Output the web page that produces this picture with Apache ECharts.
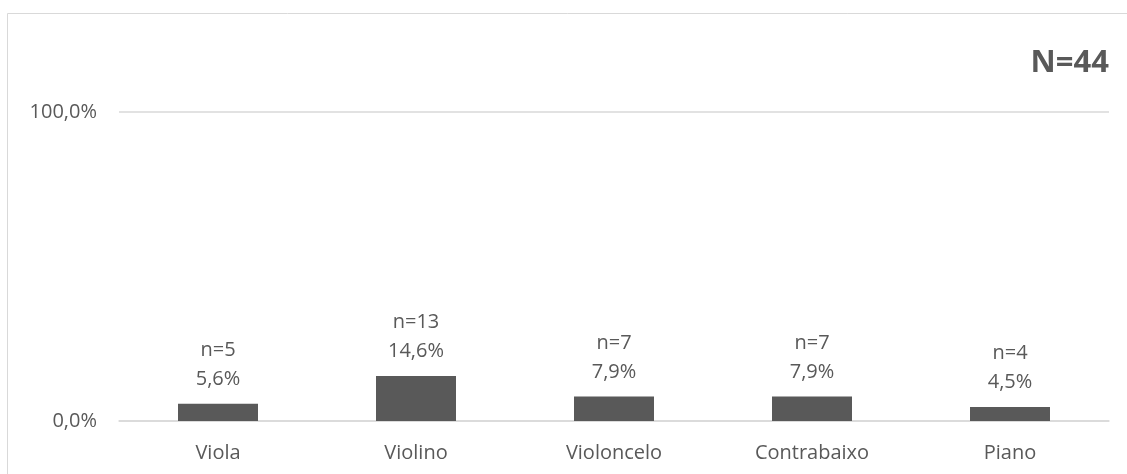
<!DOCTYPE html>
<html>
<head>
<meta charset="utf-8">
<script src="https://cdn.jsdelivr.net/npm/echarts@6/dist/echarts.min.js"></script>
<style>
  html, body { margin: 0; padding: 0; background: #ffffff; }
  #chart { width: 1127px; height: 474px; }
</style>
</head>
<body>
<div id="chart"></div>
<script>
// Instruments and their respondent counts / shares
const categories = ['Viola', 'Violino', 'Violoncelo', 'Contrabaixo', 'Piano'];
const counts = [5, 13, 7, 7, 4];
const percents = [5.6, 14.6, 7.9, 7.9, 4.5];
const yTicks = [0, 100];
const totalLabel = 'N=44';

const fmtPct = v => v.toFixed(1).replace('.', ',') + '%';
const textColor = '#595959';
const fontFamily = '"Open Sans", "Noto Sans", sans-serif';

const chart = echarts.init(document.getElementById('chart'), null, { renderer: 'canvas' });

chart.setOption({
  animation: false,
  backgroundColor: '#ffffff',
  graphic: [
    {
      type: 'rect',
      shape: { x: 7.5, y: 13.5, width: 1200, height: 500 },
      style: { fill: 'none', stroke: '#d9d9d9', lineWidth: 1 },
      silent: true
    }
  ],
  title: {
    text: totalLabel,
    right: 13,
    top: 43,
    textStyle: {
      fontFamily: fontFamily,
      fontSize: 31,
      fontWeight: 'bold',
      color: textColor
    }
  },
  grid: { left: 119, right: 18, top: 112, bottom: 53, containLabel: false },
  xAxis: {
    type: 'category',
    data: categories,
    axisLine: { show: true, lineStyle: { color: '#d9d9d9', width: 1.5 } },
    axisTick: { show: false },
    axisLabel: {
      color: textColor,
      fontFamily: fontFamily,
      fontSize: 20,
      margin: 22
    }
  },
  yAxis: {
    type: 'value',
    min: yTicks[0],
    max: yTicks[yTicks.length - 1],
    interval: yTicks[1] - yTicks[0],
    axisLine: { show: false },
    axisTick: { show: false },
    splitLine: { show: true, lineStyle: { color: '#d9d9d9', width: 1.5 } },
    axisLabel: {
      color: textColor,
      fontFamily: fontFamily,
      fontSize: 20,
      margin: 22,
      formatter: v => fmtPct(v)
    }
  },
  series: [
    {
      type: 'bar',
      data: percents,
      barWidth: 80,
      itemStyle: { color: '#595959' },
      label: {
        show: true,
        position: 'top',
        distance: 10,
        color: textColor,
        fontFamily: fontFamily,
        fontSize: 20,
        lineHeight: 29,
        formatter: p => 'n=' + counts[p.dataIndex] + '\n' + fmtPct(p.value)
      }
    }
  ]
});
</script>
</body>
</html>
